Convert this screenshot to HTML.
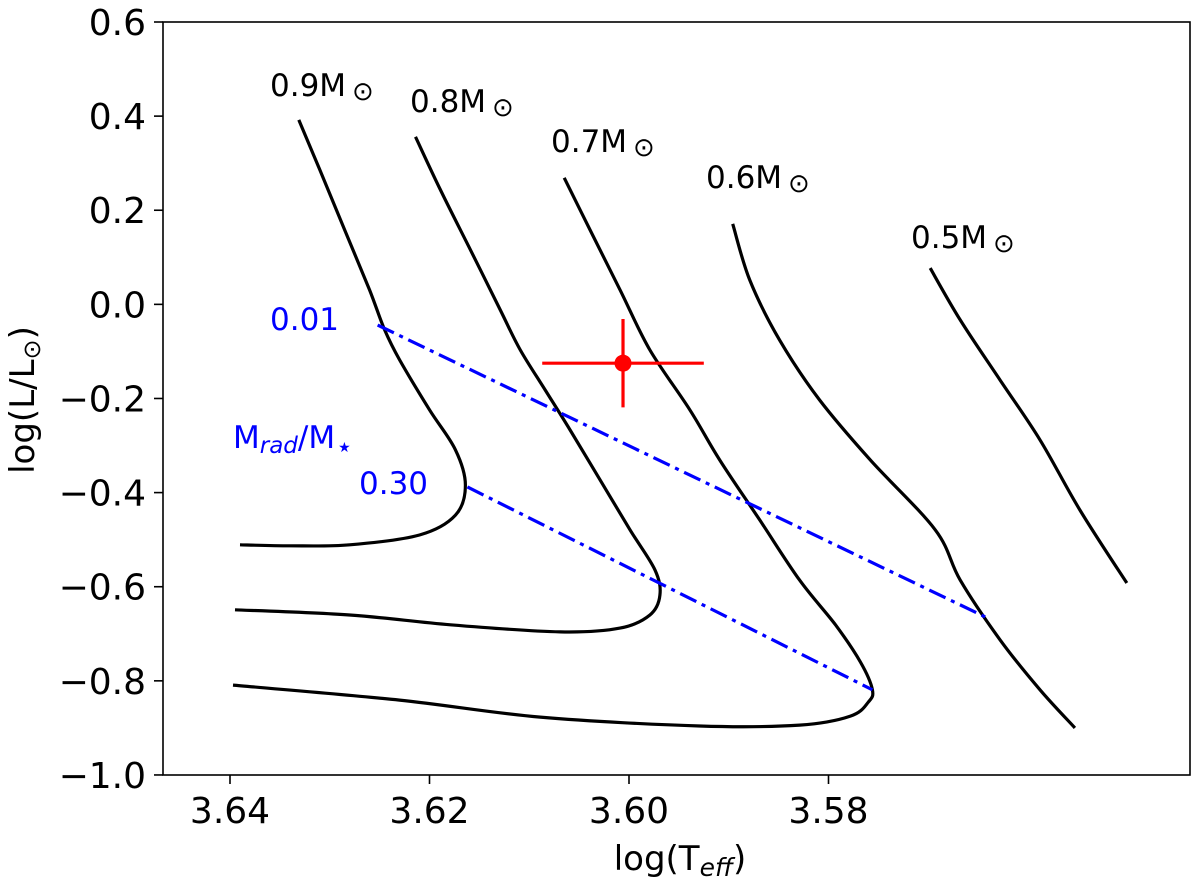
<!DOCTYPE html>
<html><head><meta charset="utf-8"><style>
body{margin:0;background:#fff}
svg text{font-family:"DejaVu Sans","Liberation Sans",sans-serif}
</style></head><body>
<svg id="c" width="1200" height="885" xmlns="http://www.w3.org/2000/svg"></svg>
<script>
const xTicks=[3.64,3.62,3.60,3.58];
const yTicks=[0.6,0.4,0.2,0.0,-0.2,-0.4,-0.6,-0.8,-1.0];
const yTickLabels=["0.6","0.4","0.2","0.0","\u22120.2","\u22120.4","\u22120.6","\u22120.8","\u22121.0"];
const trackNames=["0.9","0.8","0.7","0.6","0.5"];
const t09=[3.6331,3.6310,3.6285,3.6260,3.6245,3.6230,3.6200,3.6174,3.6164,3.6174,3.6210,3.6280,3.6340,3.6390];
const l09=[0.392,0.286,0.158,0.030,-0.054,-0.118,-0.224,-0.309,-0.384,-0.448,-0.490,-0.511,-0.513,-0.511];
const t08=[3.6214,3.6189,3.6159,3.6129,3.6109,3.6084,3.6059,3.6029,3.5999,3.5974,3.5969,3.5979,3.6009,3.6069,3.6179,3.6280,3.6395];
const l08=[0.356,0.243,0.116,-0.012,-0.097,-0.182,-0.267,-0.373,-0.479,-0.564,-0.618,-0.660,-0.688,-0.696,-0.681,-0.660,-0.649];
const t07=[3.6065,3.6039,3.6009,3.5979,3.5939,3.5909,3.5869,3.5829,3.5793,3.5768,3.5756,3.5760,3.5778,3.5829,3.5929,3.6089,3.6230,3.6397];
const l07=[0.269,0.158,0.031,-0.097,-0.224,-0.331,-0.458,-0.586,-0.681,-0.760,-0.819,-0.845,-0.875,-0.894,-0.896,-0.877,-0.841,-0.809];
const t06=[3.5896,3.5879,3.5849,3.5809,3.5758,3.5693,3.5668,3.5628,3.5588,3.5553];
const l06=[0.171,0.052,-0.076,-0.203,-0.331,-0.479,-0.586,-0.713,-0.819,-0.900];
const t05=[3.5698,3.5668,3.5628,3.5588,3.5548,3.5501];
const l05=[0.077,-0.033,-0.161,-0.288,-0.437,-0.592];
const iso01T=[3.6252,3.5643], iso01L=[-0.044,-0.664];
const iso30T=[3.6162,3.5756], iso30L=[-0.388,-0.819];
const starT=3.6006, starL=-0.125, starTerr=0.0081, starLerr=0.094;

const X=t=>230+(3.64-t)*9975;
const Y=l=>22+(0.6-l)*470.6;
const svg=document.getElementById('c');
const NS='http://www.w3.org/2000/svg';
function mk(tag,attrs,txt){const e=document.createElementNS(NS,tag);for(const k in attrs)e.setAttribute(k,attrs[k]);if(txt!==undefined)e.textContent=txt;svg.appendChild(e);return e;}
function smooth(pts){
 let d='M'+pts[0][0].toFixed(1)+','+pts[0][1].toFixed(1);
 for(let i=0;i<pts.length-1;i++){
  const p0=pts[i-1]||pts[i],p1=pts[i],p2=pts[i+1],p3=pts[i+2]||p2;
  const c1=[p1[0]+(p2[0]-p0[0])/6,p1[1]+(p2[1]-p0[1])/6];
  const c2=[p2[0]-(p3[0]-p1[0])/6,p2[1]-(p3[1]-p1[1])/6];
  d+=' C'+c1[0].toFixed(1)+','+c1[1].toFixed(1)+' '+c2[0].toFixed(1)+','+c2[1].toFixed(1)+' '+p2[0].toFixed(1)+','+p2[1].toFixed(1);
 }
 return d;
}

const frame=mk('rect',{x:163,y:22,width:1027,height:753,fill:'none',stroke:'#000','stroke-width':1.6});



xTicks.forEach(t=>{
 const tk=mk('line',{x1:X(t),x2:X(t),y1:775,y2:784,stroke:'#000','stroke-width':1.6});
 
 
 const lb=mk('text',{x:X(t),y:823,'font-size':36,'text-anchor':'middle'},t.toFixed(2));
 
 
});
yTicks.forEach((v,i)=>{
 const tk=mk('line',{x1:154,x2:163,y1:Y(v),y2:Y(v),stroke:'#000','stroke-width':1.6});
 
 
 const lb=mk('text',{x:146,y:Y(v)+13,'font-size':36,'text-anchor':'end'},yTickLabels[i]);
 
 
});
const xt=mk('text',{x:680,y:870,'font-size':34,'text-anchor':'middle'});
xt.innerHTML='log(T<tspan font-size="25" dy="6" font-style="italic">eff</tspan><tspan dy="-6">)</tspan>';


const yt=mk('text',{x:0,y:0,'font-size':34,'text-anchor':'middle',transform:'translate(34,400) rotate(-90)'});
yt.innerHTML='log(L/L<tspan font-size="24" dy="6">\u2299</tspan><tspan dy="-6">)</tspan>';



const tracks=[[t09,l09],[t08,l08],[t07,l07],[t06,l06],[t05,l05]];
const labelPos=[[270,96],[410,112],[551,152],[706,188],[911,248]];
tracks.forEach((tr,i)=>{
 const pts=tr[0].map((t,j)=>[X(t),Y(tr[1][j])]);
 const p=mk('path',{d:smooth(pts),fill:'none',stroke:'#000','stroke-width':3.2,'stroke-linejoin':'round'});
 
 
 const lb=mk('text',{x:labelPos[i][0],y:labelPos[i][1],'font-size':31});
 lb.innerHTML=trackNames[i]+'M<tspan font-size="26" dx="6" dy="4">\u2299</tspan>';
 
 
});

[[iso01T,iso01L,'iso-0.01'],[iso30T,iso30L,'iso-0.30']].forEach(s=>{
 const l=mk('line',{x1:X(s[0][0]),y1:Y(s[1][0]),x2:X(s[0][1]),y2:Y(s[1][1]),stroke:'#0000ff','stroke-width':3.2,'stroke-dasharray':'18,6,4,6'});
 
 
});
const b1=mk('text',{x:270,y:330,'font-size':31,fill:'#0000ff'},'0.01');


const b2=mk('text',{x:359,y:494,'font-size':31,fill:'#0000ff'},'0.30');


const b3=mk('text',{x:233,y:448,'font-size':31,fill:'#0000ff'});
b3.innerHTML='M<tspan font-size="23" dy="5" font-style="italic">rad</tspan><tspan dy="-5">/M</tspan><tspan font-size="14" dx="3" dy="4">\u2605</tspan>';



const eh=mk('line',{x1:X(starT+starTerr),x2:X(starT-starTerr),y1:Y(starL),y2:Y(starL),stroke:'#ff0000','stroke-width':3.2});


const ev=mk('line',{x1:X(starT),x2:X(starT),y1:Y(starL+starLerr),y2:Y(starL-starLerr),stroke:'#ff0000','stroke-width':3.2});


const sp=mk('circle',{cx:X(starT),cy:Y(starL),r:8.5,fill:'#ff0000'});


</script>
</body></html>
